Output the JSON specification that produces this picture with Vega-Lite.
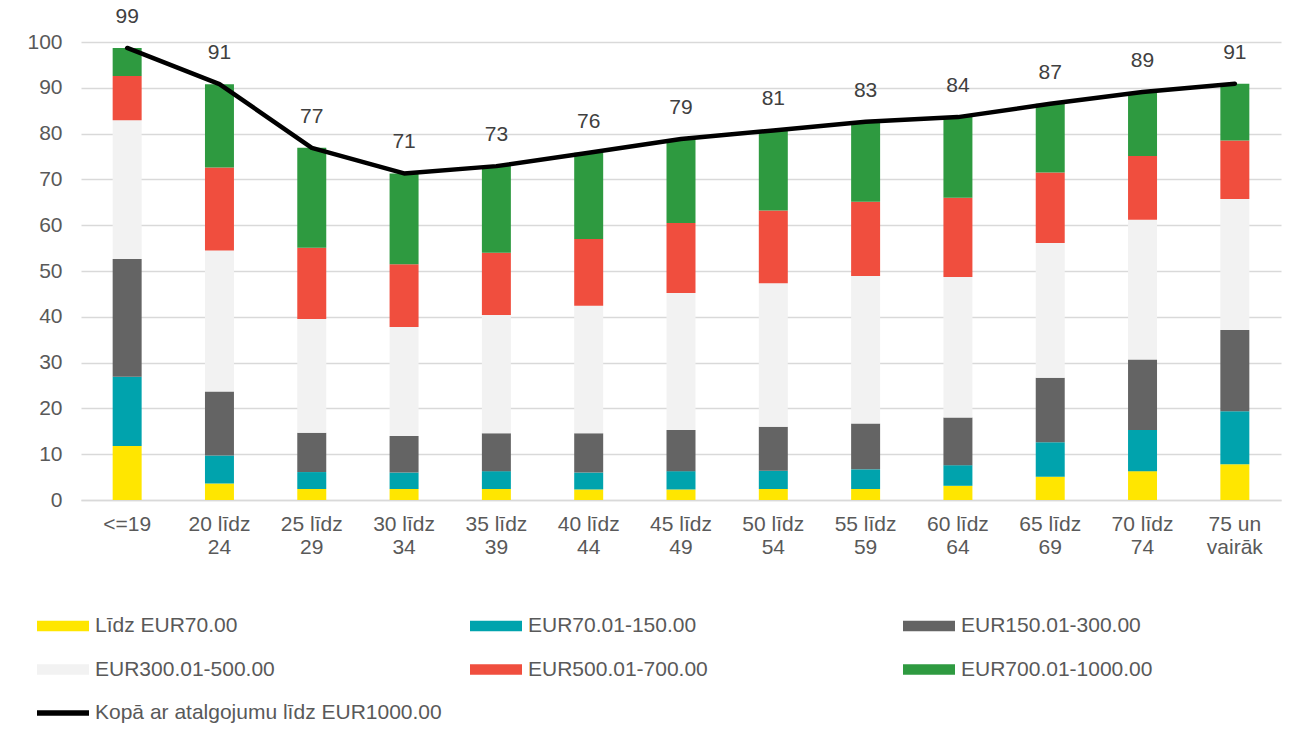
{
  "$schema": "https://vega.github.io/schema/vega-lite/v6.json",
  "width": 1200,
  "height": 458,
  "autosize": {"type": "none"},
  "padding": {"left": 81, "top": 42, "right": 17, "bottom": 242},
  "background": "white",
  "config": {
    "view": {"stroke": null},
    "font": "Liberation Sans",
    "axis": {"labelFont": "Liberation Sans", "labelColor": "#595959", "labelFontSize": 21},
    "legend": {"labelFont": "Liberation Sans"}
  },
  "datasets": {
    "bars": [
      {"age": "<=19", "cat": "Līdz EUR70.00", "v": 11.8},
      {"age": "<=19", "cat": "EUR70.01-150.00", "v": 15.1},
      {"age": "<=19", "cat": "EUR150.01-300.00", "v": 25.7},
      {"age": "<=19", "cat": "EUR300.01-500.00", "v": 30.3},
      {"age": "<=19", "cat": "EUR500.01-700.00", "v": 9.7},
      {"age": "<=19", "cat": "EUR700.01-1000.00", "v": 6.1},
      {"age": "20 līdz 24", "cat": "Līdz EUR70.00", "v": 3.6},
      {"age": "20 līdz 24", "cat": "EUR70.01-150.00", "v": 6.1},
      {"age": "20 līdz 24", "cat": "EUR150.01-300.00", "v": 14.0},
      {"age": "20 līdz 24", "cat": "EUR300.01-500.00", "v": 30.8},
      {"age": "20 līdz 24", "cat": "EUR500.01-700.00", "v": 18.1},
      {"age": "20 līdz 24", "cat": "EUR700.01-1000.00", "v": 18.2},
      {"age": "25 līdz 29", "cat": "Līdz EUR70.00", "v": 2.4},
      {"age": "25 līdz 29", "cat": "EUR70.01-150.00", "v": 3.7},
      {"age": "25 līdz 29", "cat": "EUR150.01-300.00", "v": 8.6},
      {"age": "25 līdz 29", "cat": "EUR300.01-500.00", "v": 24.8},
      {"age": "25 līdz 29", "cat": "EUR500.01-700.00", "v": 15.6},
      {"age": "25 līdz 29", "cat": "EUR700.01-1000.00", "v": 21.8},
      {"age": "30 līdz 34", "cat": "Līdz EUR70.00", "v": 2.4},
      {"age": "30 līdz 34", "cat": "EUR70.01-150.00", "v": 3.6},
      {"age": "30 līdz 34", "cat": "EUR150.01-300.00", "v": 8.0},
      {"age": "30 līdz 34", "cat": "EUR300.01-500.00", "v": 23.8},
      {"age": "30 līdz 34", "cat": "EUR500.01-700.00", "v": 13.7},
      {"age": "30 līdz 34", "cat": "EUR700.01-1000.00", "v": 19.8},
      {"age": "35 līdz 39", "cat": "Līdz EUR70.00", "v": 2.4},
      {"age": "35 līdz 39", "cat": "EUR70.01-150.00", "v": 3.9},
      {"age": "35 līdz 39", "cat": "EUR150.01-300.00", "v": 8.3},
      {"age": "35 līdz 39", "cat": "EUR300.01-500.00", "v": 25.8},
      {"age": "35 līdz 39", "cat": "EUR500.01-700.00", "v": 13.6},
      {"age": "35 līdz 39", "cat": "EUR700.01-1000.00", "v": 18.9},
      {"age": "40 līdz 44", "cat": "Līdz EUR70.00", "v": 2.3},
      {"age": "40 līdz 44", "cat": "EUR70.01-150.00", "v": 3.7},
      {"age": "40 līdz 44", "cat": "EUR150.01-300.00", "v": 8.6},
      {"age": "40 līdz 44", "cat": "EUR300.01-500.00", "v": 27.8},
      {"age": "40 līdz 44", "cat": "EUR500.01-700.00", "v": 14.6},
      {"age": "40 līdz 44", "cat": "EUR700.01-1000.00", "v": 18.8},
      {"age": "45 līdz 49", "cat": "Līdz EUR70.00", "v": 2.3},
      {"age": "45 līdz 49", "cat": "EUR70.01-150.00", "v": 4.0},
      {"age": "45 līdz 49", "cat": "EUR150.01-300.00", "v": 9.0},
      {"age": "45 līdz 49", "cat": "EUR300.01-500.00", "v": 29.9},
      {"age": "45 līdz 49", "cat": "EUR500.01-700.00", "v": 15.3},
      {"age": "45 līdz 49", "cat": "EUR700.01-1000.00", "v": 18.3},
      {"age": "50 līdz 54", "cat": "Līdz EUR70.00", "v": 2.4},
      {"age": "50 līdz 54", "cat": "EUR70.01-150.00", "v": 4.0},
      {"age": "50 līdz 54", "cat": "EUR150.01-300.00", "v": 9.6},
      {"age": "50 līdz 54", "cat": "EUR300.01-500.00", "v": 31.3},
      {"age": "50 līdz 54", "cat": "EUR500.01-700.00", "v": 15.9},
      {"age": "50 līdz 54", "cat": "EUR700.01-1000.00", "v": 17.5},
      {"age": "55 līdz 59", "cat": "Līdz EUR70.00", "v": 2.4},
      {"age": "55 līdz 59", "cat": "EUR70.01-150.00", "v": 4.3},
      {"age": "55 līdz 59", "cat": "EUR150.01-300.00", "v": 10.0},
      {"age": "55 līdz 59", "cat": "EUR300.01-500.00", "v": 32.2},
      {"age": "55 līdz 59", "cat": "EUR500.01-700.00", "v": 16.2},
      {"age": "55 līdz 59", "cat": "EUR700.01-1000.00", "v": 17.5},
      {"age": "60 līdz 64", "cat": "Līdz EUR70.00", "v": 3.1},
      {"age": "60 līdz 64", "cat": "EUR70.01-150.00", "v": 4.5},
      {"age": "60 līdz 64", "cat": "EUR150.01-300.00", "v": 10.4},
      {"age": "60 līdz 64", "cat": "EUR300.01-500.00", "v": 30.7},
      {"age": "60 līdz 64", "cat": "EUR500.01-700.00", "v": 17.3},
      {"age": "60 līdz 64", "cat": "EUR700.01-1000.00", "v": 17.6},
      {"age": "65 līdz 69", "cat": "Līdz EUR70.00", "v": 5.1},
      {"age": "65 līdz 69", "cat": "EUR70.01-150.00", "v": 7.5},
      {"age": "65 līdz 69", "cat": "EUR150.01-300.00", "v": 14.1},
      {"age": "65 līdz 69", "cat": "EUR300.01-500.00", "v": 29.4},
      {"age": "65 līdz 69", "cat": "EUR500.01-700.00", "v": 15.4},
      {"age": "65 līdz 69", "cat": "EUR700.01-1000.00", "v": 15.0},
      {"age": "70 līdz 74", "cat": "Līdz EUR70.00", "v": 6.3},
      {"age": "70 līdz 74", "cat": "EUR70.01-150.00", "v": 9.0},
      {"age": "70 līdz 74", "cat": "EUR150.01-300.00", "v": 15.4},
      {"age": "70 līdz 74", "cat": "EUR300.01-500.00", "v": 30.5},
      {"age": "70 līdz 74", "cat": "EUR500.01-700.00", "v": 13.9},
      {"age": "70 līdz 74", "cat": "EUR700.01-1000.00", "v": 14.0},
      {"age": "75 un vairāk", "cat": "Līdz EUR70.00", "v": 7.8},
      {"age": "75 un vairāk", "cat": "EUR70.01-150.00", "v": 11.6},
      {"age": "75 un vairāk", "cat": "EUR150.01-300.00", "v": 17.7},
      {"age": "75 un vairāk", "cat": "EUR300.01-500.00", "v": 28.6},
      {"age": "75 un vairāk", "cat": "EUR500.01-700.00", "v": 12.8},
      {"age": "75 un vairāk", "cat": "EUR700.01-1000.00", "v": 12.4}
    ],
    "totals": [
      {"age": "<=19", "total": 98.7},
      {"age": "20 līdz 24", "total": 90.8},
      {"age": "25 līdz 29", "total": 76.9},
      {"age": "30 līdz 34", "total": 71.3},
      {"age": "35 līdz 39", "total": 72.9},
      {"age": "40 līdz 44", "total": 75.8},
      {"age": "45 līdz 49", "total": 78.8},
      {"age": "50 līdz 54", "total": 80.7},
      {"age": "55 līdz 59", "total": 82.6},
      {"age": "60 līdz 64", "total": 83.6},
      {"age": "65 līdz 69", "total": 86.5},
      {"age": "70 līdz 74", "total": 89.1},
      {"age": "75 un vairāk", "total": 90.9}
    ]
  },
  "encoding": {
    "x": {
      "field": "age",
      "type": "nominal",
      "sort": ["<=19", "20 līdz 24", "25 līdz 29", "30 līdz 34", "35 līdz 39", "40 līdz 44", "45 līdz 49", "50 līdz 54", "55 līdz 59", "60 līdz 64", "65 līdz 69", "70 līdz 74", "75 un vairāk"],
      "scale": {"paddingInner": 0.686, "paddingOuter": 0.343},
      "axis": {
        "title": null,
        "labelAngle": 0,
        "ticks": false,
        "domain": true,
        "domainColor": "#d9d9d9",
        "domainWidth": 1.5,
        "labelPadding": 13,
        "labelLineHeight": 23,
        "labelExpr": "indexof(datum.label, ' ') < 0 ? datum.label : [slice(datum.label, 0, lastindexof(datum.label, ' ')), slice(datum.label, lastindexof(datum.label, ' ') + 1)]"
      }
    }
  },
  "layer": [
    {
      "data": {"name": "bars"},
      "transform": [
        {"calculate": "indexof(['Līdz EUR70.00', 'EUR70.01-150.00', 'EUR150.01-300.00', 'EUR300.01-500.00', 'EUR500.01-700.00', 'EUR700.01-1000.00'], datum.cat)", "as": "stackOrder"}
      ],
      "mark": {"type": "bar"},
      "encoding": {
        "y": {
          "field": "v",
          "type": "quantitative",
          "stack": "zero",
          "scale": {"domain": [0, 100], "nice": false},
          "axis": {
            "title": null,
            "values": [0, 10, 20, 30, 40, 50, 60, 70, 80, 90, 100],
            "grid": true,
            "gridColor": "#d9d9d9",
            "gridWidth": 1.5,
            "domain": false,
            "ticks": false,
            "labelPadding": 19
          }
        },
        "order": {"field": "stackOrder", "type": "quantitative", "sort": "ascending"},
        "color": {
          "field": "cat",
          "type": "nominal",
          "scale": {
            "domain": ["Līdz EUR70.00", "EUR70.01-150.00", "EUR150.01-300.00", "EUR300.01-500.00", "EUR500.01-700.00", "EUR700.01-1000.00", "Kopā ar atalgojumu līdz EUR1000.00"],
            "range": ["#FFE600", "#00A3AD", "#646464", "#F2F2F2", "#F04E3E", "#2E9A40", "#000000"]
          },
          "legend": {
            "title": null,
            "orient": "none",
            "legendX": -44,
            "legendY": 558,
            "direction": "horizontal",
            "columns": 3,
            "gridAlign": "all",
            "columnPadding": 28,
            "rowPadding": 7.5,
            "padding": 0,
            "labelFontSize": 21,
            "labelColor": "#595959",
            "labelLimit": 600,
            "labelOffset": 6,
            "symbolType": "M-1,-0.2H1V0.2H-1Z",
            "symbolSize": 2704,
            "symbolStrokeWidth": 0,
            "encode": {
              "symbols": {
                "update": {
                  "shape": {"signal": "datum.value === 'Kopā ar atalgojumu līdz EUR1000.00' ? 'M-1,-0.11H1V0.11H-1Z' : 'M-1,-0.2H1V0.2H-1Z'"},
                  "fill": {"scale": "color", "field": "value"},
                  "stroke": {"value": "transparent"},
                  "opacity": {"value": 1}
                }
              }
            }
          }
        }
      }
    },
    {
      "data": {"name": "totals"},
      "mark": {"type": "line", "strokeWidth": 4.5, "strokeCap": "round", "strokeJoin": "round"},
      "encoding": {
        "y": {"field": "total", "type": "quantitative"},
        "color": {"datum": "Kopā ar atalgojumu līdz EUR1000.00"}
      }
    },
    {
      "data": {"name": "totals"},
      "mark": {"type": "text", "dy": -31, "fontSize": 21, "color": "#404040", "font": "Liberation Sans"},
      "encoding": {
        "y": {"field": "total", "type": "quantitative"},
        "text": {"field": "total", "type": "quantitative", "format": ".0f"}
      }
    }
  ]
}
